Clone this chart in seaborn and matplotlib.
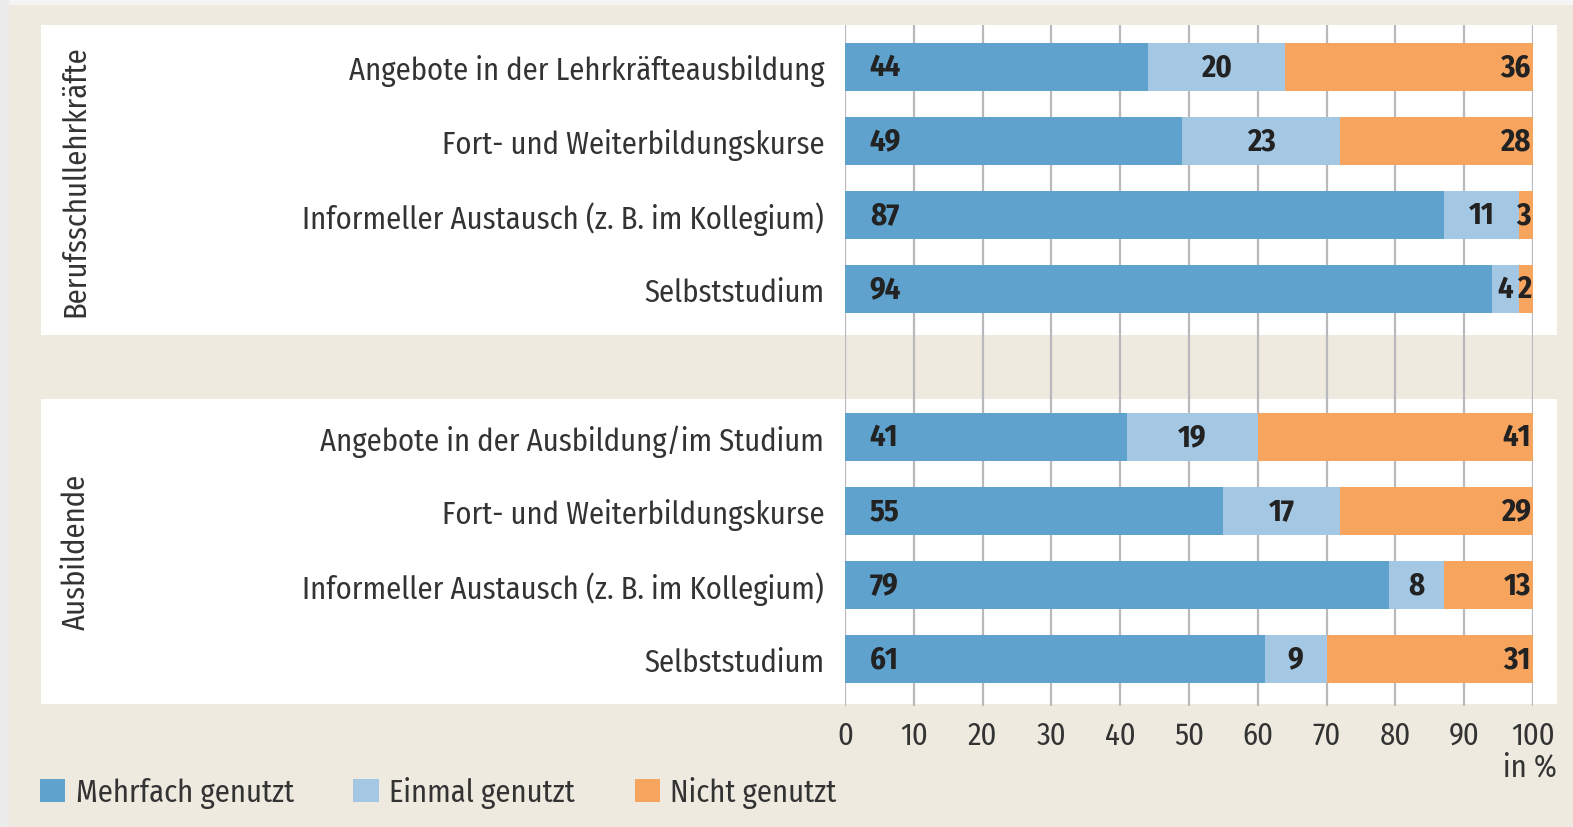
import pandas as pd
import matplotlib
matplotlib.use("Agg")
import matplotlib.pyplot as plt
from matplotlib.patches import Rectangle, Patch
import seaborn as sns

# Data (in %)
items = ["Angebote in der Lehrkräfteausbildung",
         "Fort- und Weiterbildungskurse",
         "Informeller Austausch (z. B. im Kollegium)",
         "Selbststudium",
         "Angebote in der Ausbildung/im Studium",
         "Fort- und Weiterbildungskurse",
         "Informeller Austausch (z. B. im Kollegium)",
         "Selbststudium"]
groups = ["Berufsschullehrkräfte", "Ausbildende"]
positions = [0, 1, 2, 3, 5, 6, 7, 8]
mehrfach = [44, 49, 87, 94, 41, 55, 79, 61]
einmal = [20, 23, 11, 4, 19, 17, 8, 9]
nicht = [36, 28, 3, 2, 41, 29, 13, 31]
series_names = ["Mehrfach genutzt", "Einmal genutzt", "Nicht genutzt"]
colors = ["#5ea2cd", "#a4c8e4", "#f7a45f"]

df = pd.DataFrame({"item": items, "pos": positions,
                   "mehrfach": mehrfach, "einmal": einmal, "nicht": nicht})
df["cum_einmal"] = df["mehrfach"] + df["einmal"]
df["cum_nicht"] = df["cum_einmal"] + df["nicht"]

sns.set_style("white")
plt.rcParams["font.family"] = ["Fira Sans Condensed", "DejaVu Sans"]
FS = 22
TXT = "#333333"

W, H = 1573, 828
fig = plt.figure(figsize=(W / 100, H / 100), dpi=100, facecolor="#eeeae0")

# light outer border strips and the two white panels (behind the axes)
fig.patches.append(Rectangle((0, 1 - 6 / H), 1, 6 / H, transform=fig.transFigure,
                             facecolor="#f4f4f4", edgecolor="none", zorder=-2))
fig.patches.append(Rectangle((0, 0), 9 / W, 1, transform=fig.transFigure,
                             facecolor="#ececec", edgecolor="none", zorder=-2))
for top, bottom in [(26, 336), (400, 705)]:
    fig.patches.append(Rectangle((41 / W, 1 - bottom / H), (1557 - 41) / W, (bottom - top) / H,
                                 transform=fig.transFigure, facecolor="white",
                                 edgecolor="none", zorder=-1))

ax = fig.add_axes([845 / W, 1 - 707 / H, 688 / W, (707 - 26) / H])
ax.set_facecolor("none")

# stacked bars: draw cumulative totals back to front
for col, c in zip(["cum_nicht", "cum_einmal", "mehrfach"], colors[::-1]):
    sns.barplot(data=df, x=col, y="pos", orient="h", native_scale=True,
                color=c, saturation=1, width=0.65, linewidth=0, errorbar=None, ax=ax)

ax.set_xlim(0, 100)
ax.set_ylim(8 + 47 / 74, -42 / 74)

# value labels
for _, r in df.iterrows():
    kw = dict(va="center", fontsize=FS, fontweight="bold", color="#222222")
    ax.text(3.6, r["pos"], str(r["mehrfach"]), ha="left", **kw)
    ax.text(r["mehrfach"] + r["einmal"] / 2, r["pos"], str(r["einmal"]), ha="center", **kw)
    ax.text(99.7, r["pos"], str(r["nicht"]), ha="right", **kw)

ax.set_xticks(range(0, 101, 10))
ax.set_xticklabels([str(v) for v in range(0, 101, 10)], fontsize=FS, color=TXT)
ax.set_yticks(positions)
ax.set_yticklabels(items, fontsize=FS, color=TXT)
ax.tick_params(axis="y", length=0, pad=15)
ax.tick_params(axis="x", length=0, pad=10)
ax.set_xlabel("")
ax.set_ylabel("")
ax.grid(axis="x", color="#b9b9bd", linewidth=1.6)
ax.grid(axis="y", visible=False)
ax.set_axisbelow(True)
for s in ax.spines.values():
    s.set_visible(False)

# group labels
fig.text(76 / W, 1 - 181 / H, groups[0], rotation=90, ha="center", va="center",
         fontsize=FS, color=TXT)
fig.text(76 / W, 1 - 552 / H, groups[1], rotation=90, ha="center", va="center",
         fontsize=FS, color=TXT)

fig.text(1557 / W, 1 - 768 / H, "in %", ha="right", va="center", fontsize=FS, color=TXT)

handles = [Patch(facecolor=c, edgecolor="none", label=n) for c, n in zip(colors, series_names)]
fig.legend(handles=handles, loc="center left", bbox_to_anchor=(40 / W, 1 - 793 / H),
           ncol=3, frameon=False, fontsize=FS, labelcolor=TXT,
           handlelength=0.82, handleheight=0.82, handletextpad=0.35,
           columnspacing=1.95, borderpad=0, borderaxespad=0)

fig.savefig("out.png", dpi=100, facecolor=fig.get_facecolor())
